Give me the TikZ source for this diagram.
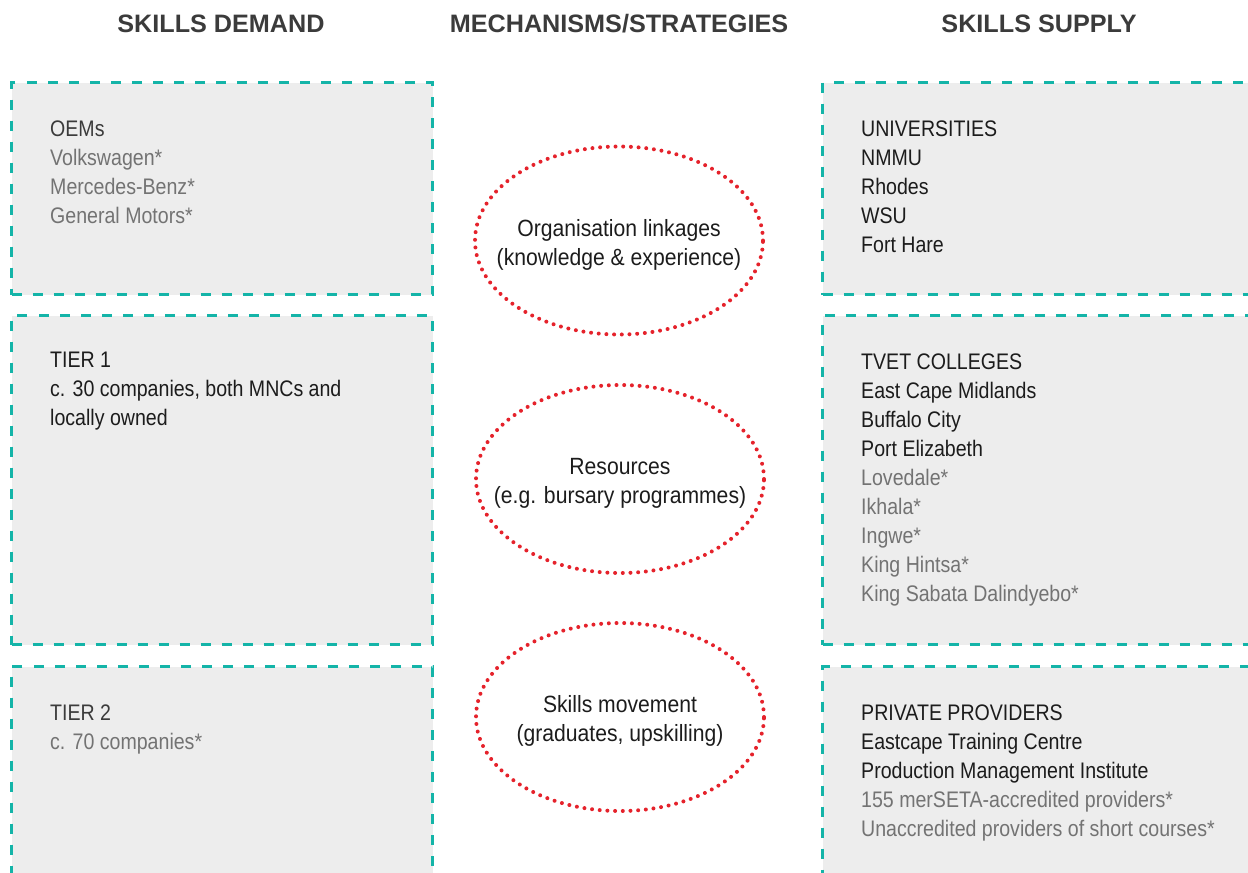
\documentclass[tikz,border=0pt]{standalone}
\usepackage{fontspec}
\setmainfont[FakeStretch=0.87]{Liberation Sans}
\newfontfamily\headfont{Liberation Sans}
\newfontfamily\mechfont[FakeStretch=0.9]{Liberation Sans}
\usepackage{tikz}
\usetikzlibrary{positioning,shapes.geometric}
\usepackage{xcolor}
\definecolor{SkTeal}{HTML}{14B4A8}
\definecolor{SkRed}{HTML}{E5222B}
\definecolor{SkFill}{HTML}{EDEDED}
\definecolor{SkInk}{HTML}{1C1C1C}
\definecolor{SkGrey}{HTML}{737373}
\definecolor{SkHead}{HTML}{3B3B3B}

\begin{document}
\begin{tikzpicture}[x=1pt,y=-1pt,
    panel/.style={draw=SkTeal,fill=SkFill,line width=3pt,dash pattern=on 10pt off 11pt,anchor=north west,inner sep=0pt},
    entry/.style={anchor=north west,inner sep=0pt,align=left,font=\fontsize{22.5}{29}\selectfont},
    mech/.style={ellipse,draw=SkRed,line width=4pt,line cap=round,dash pattern=on 0pt off 7.7pt,minimum width=288pt,minimum height=188pt,inner sep=0pt},
    mechtext/.style={inner sep=0pt,align=center,text=SkInk,yshift=-4pt,font=\mechfont\fontsize{23.5}{29}\selectfont},
    colhead/.style={anchor=base,text=SkHead,font=\headfont\bfseries\fontsize{25.2}{29}\selectfont}]
        \useasboundingbox (0,0) rectangle (1248,873);
        \clip (0,0) rectangle (1248,873);

        \node[colhead] (hdemand) at (221,32) {SKILLS DEMAND};
        \node[colhead] (hmech) at (619,32) {MECHANISMS/STRATEGIES};
        \node[colhead] (hsupply) at (1039,32) {SKILLS SUPPLY};

        % demand side
        \node[panel,minimum width=421pt,minimum height=212pt] (oems) at (10,81) {};
        \node[panel,minimum width=421pt,minimum height=329pt] (tierone) at (10,314) {};
        \node[panel,minimum width=421pt,minimum height=240pt] (tiertwo) at (10,665) {};
        \node[entry,text=SkGrey,below right=40pt and 40pt of oems.north west] (oemslist)
            {\textcolor{SkHead}{OEMs}\\Volkswagen*\\Mercedes-Benz*\\General Motors*};
        \node[entry,text=SkInk,below right=38pt and 40pt of tierone.north west] (tieronelist)
            {TIER 1\\c. 30 companies, both MNCs and\\locally owned};
        \node[entry,text=SkGrey,below right=40pt and 40pt of tiertwo.north west] (tiertwolist)
            {\textcolor{SkHead}{TIER 2}\\c. 70 companies*};

        % supply side
        \node[panel,minimum width=440pt,minimum height=212pt] (unis) at (821,81) {};
        \node[panel,minimum width=440pt,minimum height=329pt] (tvet) at (821,314) {};
        \node[panel,minimum width=440pt,minimum height=240pt] (private) at (821,665) {};
        \node[entry,text=SkInk,below right=40pt and 40pt of unis.north west] (unislist)
            {UNIVERSITIES\\NMMU\\Rhodes\\WSU\\Fort Hare};
        \node[entry,text=SkInk,below right=40pt and 40pt of tvet.north west] (tvetlist)
            {TVET COLLEGES\\East Cape Midlands\\Buffalo City\\Port Elizabeth\\
             \textcolor{SkGrey}{Lovedale*}\\\textcolor{SkGrey}{Ikhala*}\\\textcolor{SkGrey}{Ingwe*}\\
             \textcolor{SkGrey}{King Hintsa*}\\\textcolor{SkGrey}{King Sabata Dalindyebo*}};
        \node[entry,text=SkInk,below right=40pt and 40pt of private.north west] (privatelist)
            {PRIVATE PROVIDERS\\Eastcape Training Centre\\Production Management Institute\\
             \textcolor{SkGrey}{155 merSETA-accredited providers*}\\
             \textcolor{SkGrey}{Unaccredited providers of short courses*}};

        % mechanisms
        \node[mech] (linkages) at (619,240.5) {};
        \node[mech] (resources) at (620,479) {};
        \node[mech] (movement) at (620,717) {};
        \node[mechtext] (linkagestext) at (linkages.center) {Organisation linkages\\(knowledge \& experience)};
        \node[mechtext] (resourcestext) at (resources.center) {Resources\\(e.g. bursary programmes)};
        \node[mechtext] (movementtext) at (movement.center) {Skills movement\\(graduates, upskilling)};
      \end{tikzpicture}
\end{document}
